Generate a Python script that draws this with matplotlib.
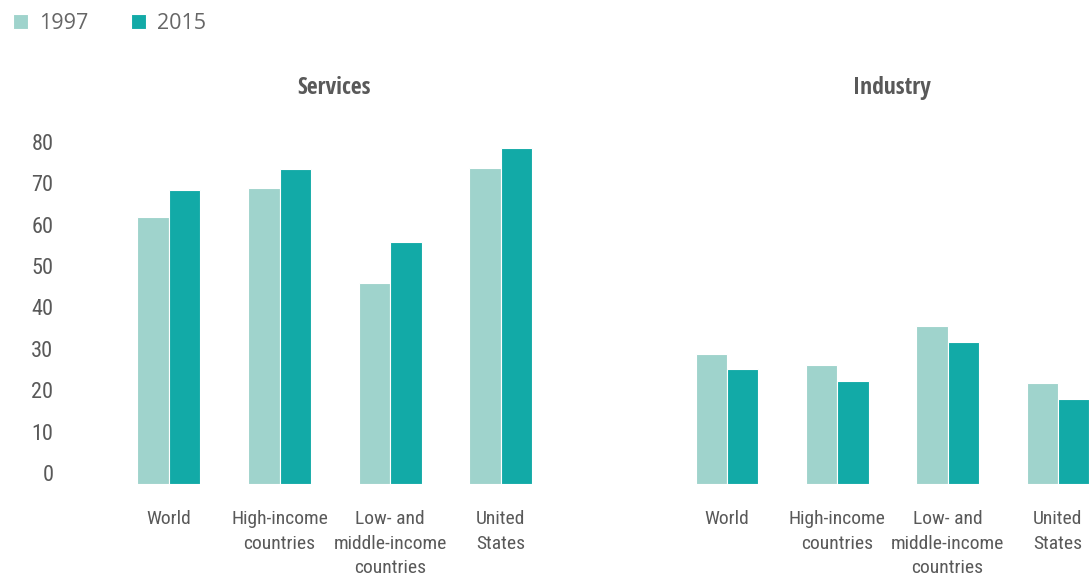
import numpy as np
import matplotlib.pyplot as plt
from matplotlib import font_manager

# --- data ---------------------------------------------------------------
categories = ["World", "High-income\ncountries", "Low- and\nmiddle-income\ncountries", "United\nStates"]
years = ["1997", "2015"]
services_1997 = [61.9, 68.8, 45.8, 73.7]
services_2015 = [68.3, 73.3, 55.9, 78.4]
industry_1997 = [28.8, 26.1, 35.5, 21.7]
industry_2015 = [25.2, 22.3, 31.6, 17.9]
yticks = [0, 10, 20, 30, 40, 50, 60, 70, 80]

c_light = "#9fd3cc"
c_dark = "#12aaa7"
txt = "#595959"


def weight_num(w):
    if isinstance(w, int):
        return w
    return {"light": 300, "normal": 400, "regular": 400, "medium": 500,
            "semibold": 600, "bold": 700}.get(str(w).lower(), 400)


# pick a condensed font file close to the wanted weight
def find_narrow(want):
    best = None
    for f in font_manager.fontManager.ttflist:
        nm = f.name.lower()
        fn = f.fname.lower()
        narrowish = ("narrow" in nm or "condensed" in nm or "condensed" in fn
                     or "narrow" in fn or f.stretch in ("condensed", "semi-condensed"))
        if not narrowish or f.style != "normal":
            continue
        score = -abs(weight_num(f.weight) - want)
        if "open sans" in nm:
            score += 30
        elif "roboto" in nm:
            score += 20
        if best is None or score > best[0]:
            best = (score, f.fname)
    if best is None:
        return font_manager.FontProperties(family="DejaVu Sans",
                                           weight="bold" if want >= 600 else "normal")
    return font_manager.FontProperties(fname=best[1])


fp_reg = find_narrow(400)
fp_bold = find_narrow(700)

W, H = 1089, 578
fig = plt.figure(figsize=(W / 100, H / 100), dpi=100)

y_floor = -2.6
y_top = 82
bottom = (H - 484) / H
height = (484 - 133.4) / H


def panel(left_px, right_px, xlim, v1, v2, title, title_x, show_y):
    ax = fig.add_axes([left_px / W, bottom, (right_px - left_px) / W, height])
    x = np.arange(len(categories))
    w = 0.284
    b1 = ax.bar(x - w / 2, np.array(v1) - y_floor, w, bottom=y_floor, color=c_light,
                edgecolor="white", linewidth=0.8, label=years[0])
    b2 = ax.bar(x + w / 2, np.array(v2) - y_floor, w, bottom=y_floor, color=c_dark,
                edgecolor="white", linewidth=0.8, label=years[1])
    ax.set_xlim(*xlim)
    ax.set_ylim(y_floor, y_top)
    for s in ax.spines.values():
        s.set_visible(False)
    ax.set_xticks(x)
    ax.set_xticklabels(categories, color=txt, linespacing=1.45)
    for t in ax.get_xticklabels():
        t.set_fontproperties(fp_reg)
        t.set_fontsize(14)
    ax.tick_params(axis="x", length=0, pad=19)
    if show_y:
        ax.set_yticks(yticks)
        ax.set_yticklabels([str(t) for t in yticks], color=txt)
        for t in ax.get_yticklabels():
            t.set_fontproperties(fp_reg)
            t.set_fontsize(16)
        ax.tick_params(axis="y", length=0, pad=48)
    else:
        ax.set_yticks([])
    fig.text(title_x / W, 1 - 88 / H, title, ha="center", va="center",
             fontproperties=fp_bold, fontsize=17, color=txt)
    return b1, b2


b1, b2 = panel(120, 560, ((120 - 168.8) / 110.7, (560 - 168.8) / 110.7),
               services_1997, services_2015, "Services", 334, True)
panel(680, 1089, ((680 - 727) / 110.3, (1089 - 727) / 110.3),
      industry_1997, industry_2015, "Industry", 892, False)

fig.legend([b1, b2], years, loc="upper left", bbox_to_anchor=(0.0, 1.0), ncol=2,
           frameon=False, handlelength=0.7, handleheight=0.7, handletextpad=0.5,
           columnspacing=2.0, borderaxespad=0.2,
           prop={"family": "Open Sans", "size": 15.5}, labelcolor="#666666")

fig.savefig("out.png", dpi=100)
